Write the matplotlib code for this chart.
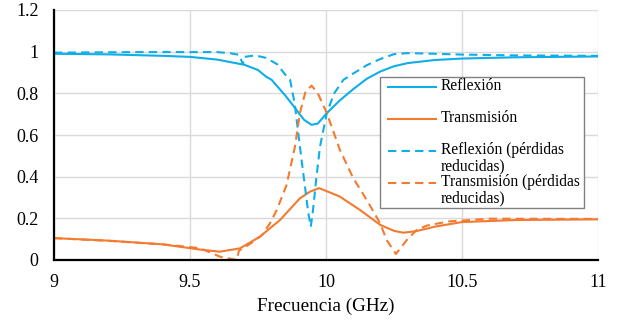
import matplotlib
matplotlib.use("Agg")
import matplotlib.pyplot as plt
import numpy as np
from matplotlib.legend_handler import HandlerLine2D

# ---- data ----
f_refl = [9.0, 9.2, 9.4, 9.5, 9.6, 9.7, 9.75, 9.78, 9.8, 9.85, 9.88, 9.9, 9.92, 9.947,
          9.97, 10.003, 10.05, 10.1, 10.15, 10.2, 10.25, 10.3, 10.4, 10.5, 10.7, 11.0]
refl = [0.990, 0.987, 0.980, 0.975, 0.962, 0.937, 0.912, 0.88, 0.865, 0.79, 0.74, 0.705,
        0.672, 0.649, 0.655, 0.705, 0.765, 0.82, 0.87, 0.905, 0.93, 0.945, 0.96,
        0.967, 0.973, 0.977]

f_trans = [9.0, 9.2, 9.4, 9.537, 9.61, 9.684, 9.757, 9.831, 9.904, 9.941, 9.975,
           10.05, 10.125, 10.2, 10.25, 10.284, 10.33, 10.4, 10.5, 10.7, 11.0]
trans = [0.105, 0.093, 0.075, 0.05, 0.04, 0.056, 0.112, 0.192, 0.296, 0.328, 0.345,
         0.305, 0.24, 0.168, 0.14, 0.131, 0.138, 0.16, 0.182, 0.192, 0.195]

f_refl_red = [9.0, 9.3, 9.6, 9.65, 9.68, 9.695, 9.70, 9.74, 9.78, 9.82, 9.85, 9.868,
              9.885, 9.904, 9.92, 9.935, 9.944, 9.951, 9.965, 9.978, 10.003, 10.03,
              10.064, 10.1, 10.15, 10.2, 10.25, 10.3, 10.4, 10.5, 10.7, 11.0]
refl_red = [0.995, 0.998, 0.998, 0.992, 0.985, 0.94, 0.975, 0.982, 0.97, 0.94, 0.89,
            0.865, 0.75, 0.545, 0.38, 0.225, 0.16, 0.225, 0.40, 0.545, 0.705, 0.80,
            0.865, 0.895, 0.935, 0.965, 0.988, 0.993, 0.99, 0.986, 0.982, 0.98]

f_trans_red = [9.0, 9.2, 9.4, 9.537, 9.61, 9.672, 9.68, 9.70, 9.733, 9.765, 9.794,
               9.819, 9.855, 9.886, 9.904, 9.925, 9.947, 9.97, 10.003, 10.051, 10.10,
               10.15, 10.199, 10.223, 10.257, 10.297, 10.333, 10.37, 10.45, 10.6, 11.0]
trans_red = [0.105, 0.092, 0.075, 0.057, 0.016, 0.0, 0.045, 0.06, 0.088, 0.12, 0.176,
             0.24, 0.36, 0.545, 0.705, 0.81, 0.837, 0.80, 0.705, 0.529, 0.393,
             0.288, 0.176, 0.096, 0.029, 0.096, 0.144, 0.165, 0.185, 0.198, 0.197]

labels = ["Reflexión\n ", "Transmisión\n ", "Reflexión (pérdidas\nreducidas)",
          "Transmisión (pérdidas \nreducidas)"]
xticks = [9, 9.5, 10, 10.5, 11]
xticklabels = ["9", "9.5", "10", "10.5", "11"]
yticks = [0, 0.2, 0.4, 0.6, 0.8, 1, 1.2]
yticklabels = ["0", "0.2", "0.4", "0.6", "0.8", "1", "1.2"]

BLUE = "#0FAEE9"
ORANGE = "#F47A30"

plt.rcParams["font.family"] = ["Liberation Serif", "DejaVu Serif"]


class FirstLineHandler(HandlerLine2D):
    """Place the legend line at the first text line of a two-line label,
    leaving a small gap on its left."""
    def __init__(self, yoffset, xoffset, **kw):
        super().__init__(**kw)
        self.yoffset = yoffset
        self.xoffset = xoffset

    def create_artists(self, legend, orig_handle, xdescent, ydescent, width,
                       height, fontsize, trans):
        arts = super().create_artists(legend, orig_handle, xdescent, ydescent,
                                      width, height, fontsize, trans)
        for a in arts:
            a.set_ydata(np.asarray(a.get_ydata(), dtype=float) + self.yoffset)
            xd = np.asarray(a.get_xdata(), dtype=float)
            if len(xd) >= 2:
                a.set_xdata(np.linspace(xd[0] + self.xoffset, xd[-1], len(xd)))
        return arts


fig = plt.figure(figsize=(6.24, 3.22), dpi=100)
ax = fig.add_axes([54 / 624, 1 - 260 / 322, 544 / 624, 250 / 322])

lw = 1.5
l1, = ax.plot(f_refl, refl, color=BLUE, lw=lw, label=labels[0])
l2, = ax.plot(f_trans, trans, color=ORANGE, lw=lw, label=labels[1])
l3, = ax.plot(f_refl_red, refl_red, color=BLUE, lw=lw, dashes=(4, 2.5), label=labels[2])
l4, = ax.plot(f_trans_red, trans_red, color=ORANGE, lw=lw, dashes=(4, 2.5), label=labels[3])

ax.set_xlim(9, 11)
ax.set_ylim(0, 1.2)
ax.set_xticks(xticks)
ax.set_xticklabels(xticklabels)
ax.set_yticks(yticks)
ax.set_yticklabels(yticklabels)
ax.tick_params(axis="both", length=0, labelsize=13)
ax.tick_params(axis="y", pad=11)
ax.tick_params(axis="x", pad=10)
ax.grid(True, color="#d9d9d9", lw=1)
ax.set_axisbelow(True)
for s in ["top", "right"]:
    ax.spines[s].set_visible(False)
for s in ["left", "bottom"]:
    ax.spines[s].set_linewidth(1.6)
    ax.spines[s].set_color("black")

ax.set_xlabel("Frecuencia (GHz)", fontsize=13.8, labelpad=5)

hmap = {l: FirstLineHandler(5.7, 5.0) for l in (l1, l2, l3, l4)}
leg = ax.legend(handles=[l1, l2, l3, l4], loc="upper left",
                bbox_to_anchor=(0.599, 0.732), fontsize=11.2,
                handlelength=3.55, handletextpad=0.32, labelspacing=0.0,
                borderpad=0.05, borderaxespad=0, fancybox=False, framealpha=1,
                edgecolor="#808080", handler_map=hmap)
leg.get_frame().set_linewidth(1.0)
for t in leg.get_texts():
    t.set_linespacing(1.02)

fig.savefig("out.png", dpi=100)
